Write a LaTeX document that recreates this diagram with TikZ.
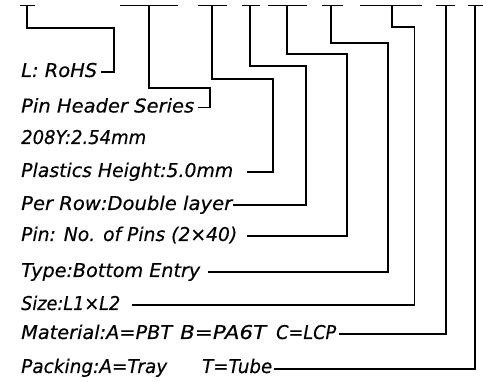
\documentclass[tikz,border=0pt]{standalone}
\usepackage{fontspec}
\usepackage{graphicx}
\setmainfont{DejaVu Sans}[FakeBold=0.35]
\newcommand{\fitw}[2]{\resizebox{#1}{\height}{#2}}
\begin{document}
\begin{tikzpicture}[x=1pt,y=-1pt,
  ln/.style={line width=1.3pt,line join=miter,line cap=butt},
  lbl/.style={anchor=base west,inner sep=0pt,font=\fontsize{19}{22}\selectfont\itshape}]
\useasboundingbox (0,0) rectangle (483,382);
% labels
\node[lbl] (t1) at (21,77) {\fitw{76pt}{L: RoHS}};
\node[lbl] (t2) at (21,112.5) {\fitw{173pt}{Pin Header Series}};
\node[lbl] (t3) at (21,144) {\fitw{125pt}{208Y:2.54mm}};
\node[lbl] (t4) at (21,177) {\fitw{212pt}{Plastics Height:5.0mm}};
\node[lbl] (t5) at (21,210) {\fitw{211pt}{Per Row:Double layer}};
\node[lbl] (t6) at (21,241) {\fitw{216pt}{Pin: No. of Pins (2×40)}};
\node[lbl] (t7) at (21,277) {\fitw{179pt}{Type:Bottom Entry}};
\node[lbl] (t8) at (21,310) {\fitw{99pt}{Size:L1×L2}};
\node[lbl] (t9) at (21,339) {\fitw{151pt}{Material:A=PBT}\hspace{8pt}\fitw{86pt}{B=PA6T}\hspace{10pt}\fitw{60pt}{C=LCP}};
\node[lbl] (t10) at (21,373) {\fitw{146pt}{Packing:A=Tray}\hspace{35pt}\fitw{70pt}{T=Tube}};
% top bars
\coordinate (b1) at (27,5.7);  \coordinate (b2) at (149,5.7);
\coordinate (b3) at (212,5.7); \coordinate (b4) at (250,5.7);
\coordinate (b5) at (287,5.7); \coordinate (b6) at (331,5.7);
\coordinate (b7) at (392,5.7); \coordinate (b8) at (446,5.7);
\coordinate (b9) at (475,5.7);
\draw[ln] (20,5.7) -- (35,5.7);
\draw[ln] (120,5.7) -- (178,5.7);
\draw[ln] (198,5.7) -- (227,5.7);
\draw[ln] (242,5.7) -- (260,5.7);
\draw[ln] (268,5.7) -- (307,5.7);
\draw[ln] (322,5.7) -- (343,5.7);
\draw[ln] (360,5.7) -- (422,5.7);
\draw[ln] (436,5.7) -- (455,5.7);
\draw[ln] (468,5.7) -- (483,5.7);
% leader ends
\coordinate (e1) at (101,72);
\coordinate (e2) at (198,107.7);
\coordinate (e3) at (247,172);
\coordinate (e4) at (233,205);
\coordinate (e5) at (247,236);
\coordinate (e6) at (208,272);
\coordinate (e7) at (132,305);
\coordinate (e8) at (339,334);
\coordinate (e9) at (274,369);
% knee points
\coordinate (k1) at (114,28);
\coordinate (k2) at (210,88);
\coordinate (k3) at (273,79);
\coordinate (k4) at (306,66);
\coordinate (k5) at (347,54);
\coordinate (k6) at (388,43);
\coordinate (k7) at (414.5,27);
% leaders
\draw[ln] (b1) |- (k1) |- (e1);
\draw[ln] (b2) |- (k2) |- (e2);
\draw[ln] (b3) |- (k3) |- (e3);
\draw[ln] (b4) |- (k4) |- (e4);
\draw[ln] (b5) |- (k5) |- (e5);
\draw[ln] (b6) |- (k6) |- (e6);
\draw[ln] (b7) |- (k7) |- (e7);
\draw[ln] (b8) |- (e8);
\draw[ln] (b9) |- (e9);
\end{tikzpicture}
\end{document}
